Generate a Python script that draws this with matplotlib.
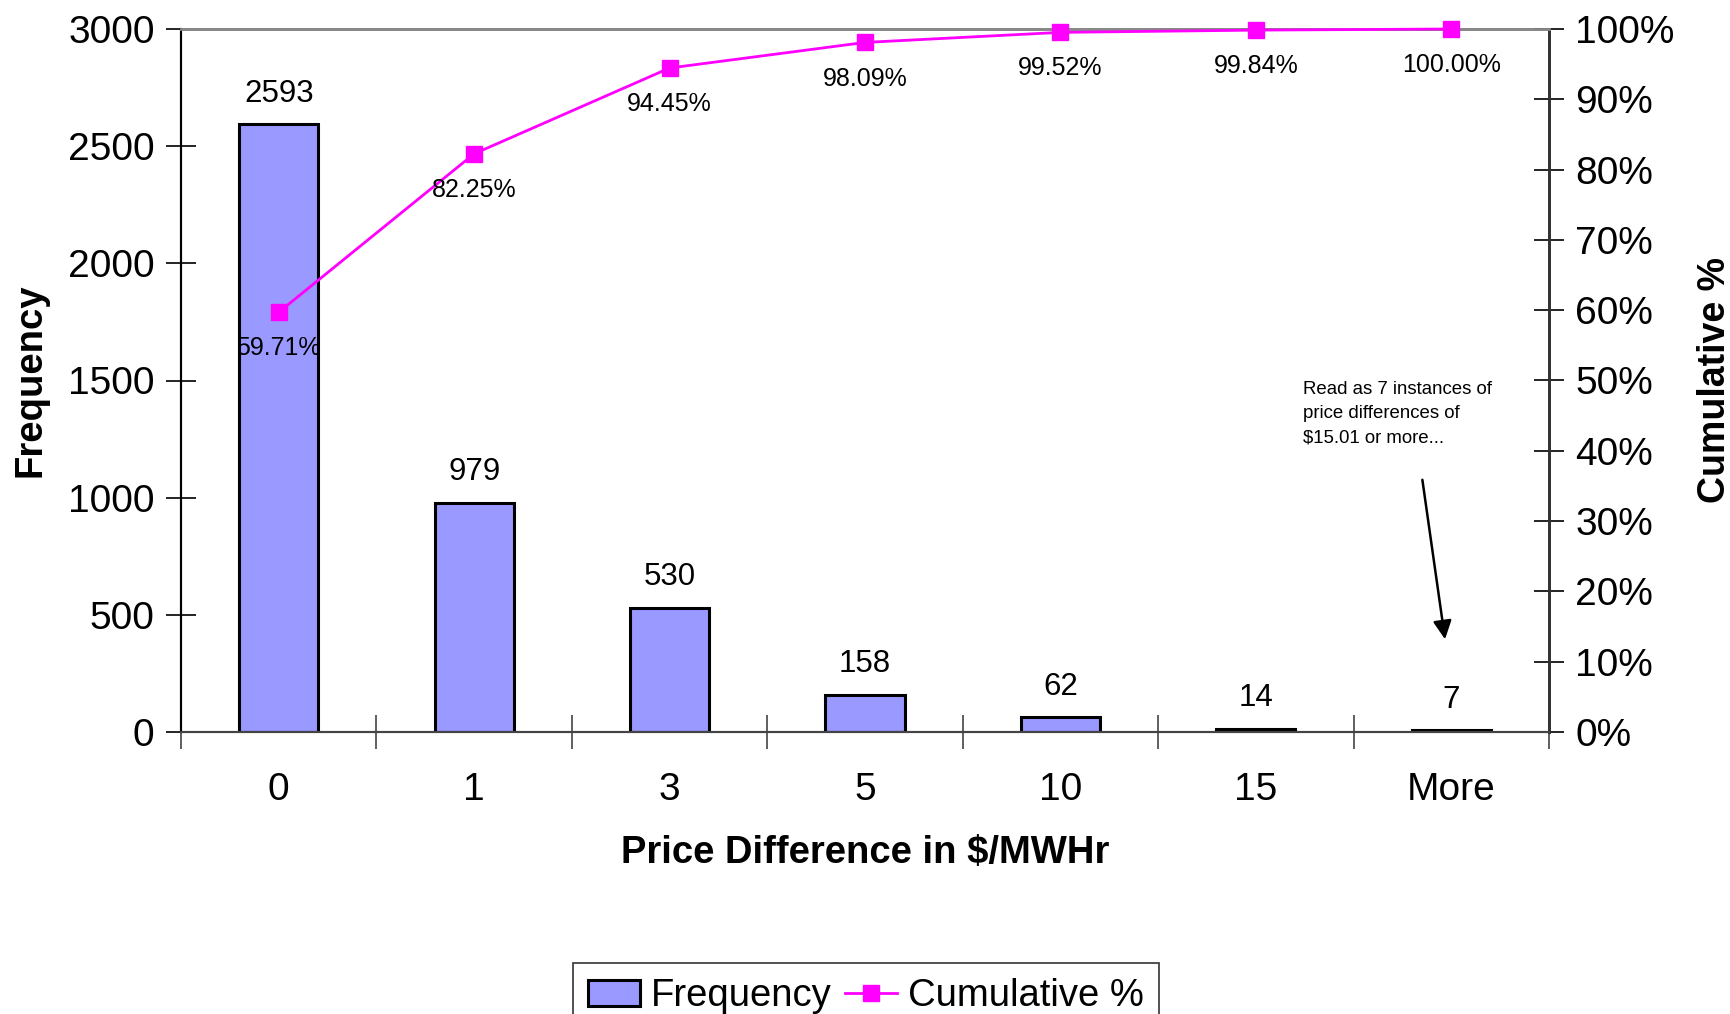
import matplotlib
matplotlib.use("Agg")
import matplotlib.pyplot as plt
import numpy as np
from matplotlib.ticker import FuncFormatter

categories = ["0", "1", "3", "5", "10", "15", "More"]
frequency = [2593, 979, 530, 158, 62, 14, 7]
cumulative_pct = [59.71, 82.25, 94.45, 98.09, 99.52, 99.84, 100.00]
left_ticks = [0, 500, 1000, 1500, 2000, 2500, 3000]
right_ticks = [0, 10, 20, 30, 40, 50, 60, 70, 80, 90, 100]

plt.rcParams['font.family'] = ['Liberation Sans', 'DejaVu Sans']

W, H = 1730, 1014
fig = plt.figure(figsize=(W / 100, H / 100), dpi=100)
ax = fig.add_axes([181 / W, 1 - 732 / H, (1549 - 181) / W, (732 - 29) / H])
ax2 = ax.twinx()

x = np.arange(len(categories))
ax.bar(x, frequency, width=0.405, color="#9999FF", edgecolor="black",
       linewidth=2.2, label="Frequency", zorder=2)
ax.set_xlim(-0.5, len(categories) - 0.5)
ax.set_ylim(0, 3000)
ax.set_yticks(left_ticks)
ax.tick_params(axis='y', direction='inout', length=22, width=1.2, labelsize=28, pad=8)
ax.set_xticks(np.arange(len(categories) + 1) - 0.5)
ax.set_xticklabels([])
ax.set_xticks(x, minor=True)
ax.set_xticklabels(categories, minor=True)
ax.tick_params(axis='x', which='major', direction='inout', length=24, width=1.2, color='#444444')
ax.tick_params(axis='x', which='minor', length=0, labelsize=28, pad=29)

for xi, v in zip(x, frequency):
    ax.annotate(str(v), (xi, v), xytext=(0, 22), textcoords='offset points',
                ha='center', va='center', fontsize=22.5)

ax2.set_ylim(0, 100)
ax2.plot(x, cumulative_pct, color="#FF00FF", marker='s', markersize=11,
         linewidth=2, label="Cumulative %", zorder=3, clip_on=False)
ax2.set_yticks(right_ticks)
ax2.yaxis.set_major_formatter(FuncFormatter(lambda v, p: f"{int(v)}%"))
ax2.tick_params(axis='y', direction='inout', length=22, width=1.2, labelsize=28, pad=8)
for xi, v in zip(x, cumulative_pct):
    ax2.annotate(f"{v:.2f}%", (xi, v), xytext=(0, -26), textcoords='offset points',
                 ha='center', va='center', fontsize=18)

for a in (ax, ax2):
    a.spines['top'].set_color('#888888')
    a.spines['top'].set_linewidth(2)
    a.spines['left'].set_linewidth(1.5)
    a.spines['right'].set_linewidth(2)
    a.spines['right'].set_color('#333333')
    a.spines['bottom'].set_color('#444444')
    a.spines['bottom'].set_linewidth(1.5)

ax.set_ylabel("Frequency", fontsize=27.5, fontweight='bold', labelpad=14)
ax2.set_ylabel("Cumulative %", fontsize=27, fontweight='bold', labelpad=16)
ax.set_xlabel("Price Difference in $/MWHr", fontsize=27.5, fontweight='bold', labelpad=19.5)

ax.text(5.24, 1500, "Read as 7 instances of\nprice differences of\n$15.01 or more...",
        fontsize=13.4, ha='left', va='top', linespacing=1.56)
ax.annotate("", xy=(5.97, 384), xytext=(5.85, 1088),
            arrowprops=dict(arrowstyle='-|>', color='black', lw=1.8, mutation_scale=28))

h1, l1 = ax.get_legend_handles_labels()
h2, l2 = ax2.get_legend_handles_labels()
leg = fig.legend(h1 + h2, l1 + l2, loc='upper center', bbox_to_anchor=(866 / W, 1 - 963 / H),
                 ncol=2, fontsize=27.5, frameon=True, fancybox=False, edgecolor='black',
                 handlelength=1.35, handletextpad=0.3, columnspacing=0.35, borderpad=0.4,
                 borderaxespad=0)
leg.get_frame().set_linewidth(1.2)

fig.savefig("out.png", dpi=100)
